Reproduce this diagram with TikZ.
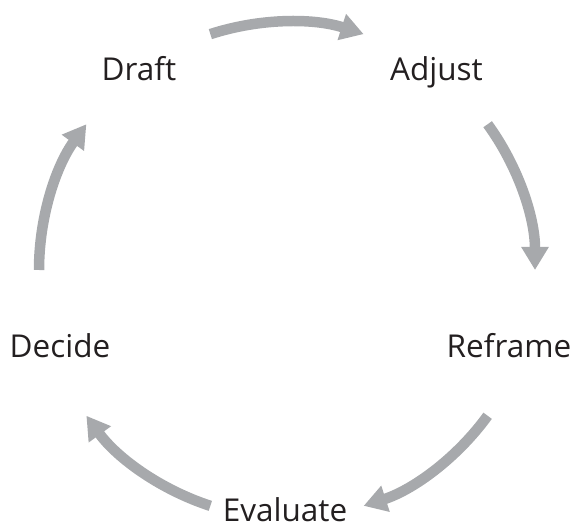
\documentclass[tikz,border=0pt]{standalone}
\usepackage{fontspec}
\setmainfont{Open Sans}
\usetikzlibrary{arrows.meta}
\definecolor{arrowgray}{HTML}{A7A9AC}
\definecolor{textdark}{HTML}{231F20}
\begin{document}
\begin{tikzpicture}[x=1pt,y=1pt,
  lbl/.style={anchor=base, inner sep=0pt, text=textdark, font=\fontsize{31.5}{36}\selectfont},
  cyclearrow/.style={draw=arrowgray, line width=10.5pt, line cap=butt,
    -{Triangle[width=26pt,length=23pt]}}]
\useasboundingbox (0,0) rectangle (573,527);
\coordinate (c) at (287,257);
\node[lbl] (draft) at (139,446) {Draft};
\node[lbl] (adjust) at (436.5,446) {Adjust};
\node[lbl] (reframe) at (509,169) {Reframe};
\node[lbl] (evaluate) at (285,5) {Evaluate};
\node[lbl] (decide) at (60,169) {Decide};
\foreach \a in {108,36,-36,-108,180}{
  \draw[cyclearrow] (c) ++(\a:248) arc[start angle=\a, end angle=\a-36, radius=248];
}
\end{tikzpicture}
\end{document}
